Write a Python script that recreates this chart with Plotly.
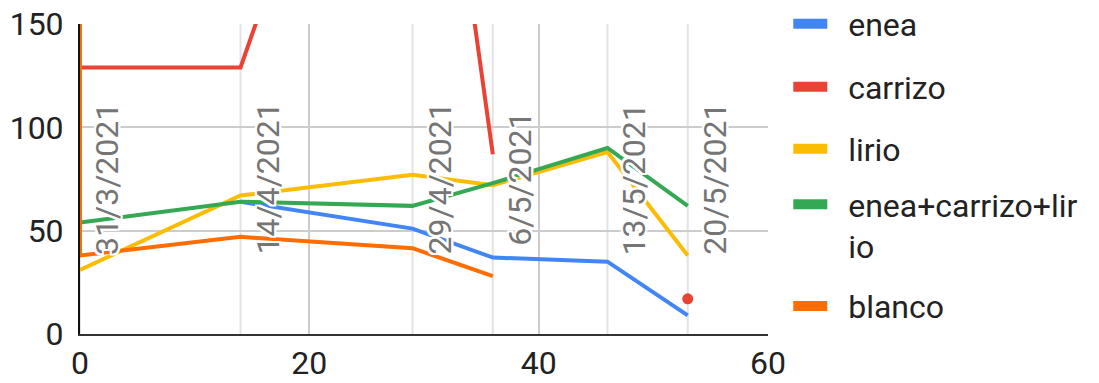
import plotly.graph_objects as go

# Days since 31/3/2021 for each sampling date
days = [0, 14, 29, 36, 46, 53]
date_labels = ["31/3/2021", "14/4/2021", "29/4/2021", "6/5/2021", "13/5/2021", "20/5/2021"]

enea = [None, 64, 51, 37, 35, 9]
carrizo = [129, 129, 367, 87, None, 17]
lirio = [31, 67, 77, 72, 88, 38]
mezcla = [54, 64, 62, 73, 90, 62]
blanco_days = [0, 0, 14, 29, 36]
blanco = [180, 38, 47, 41.5, 28]

series = [
    ("enea", days, enea, "#4285F4"),
    ("carrizo", days, carrizo, "#EA4335"),
    ("lirio", days, lirio, "#FBBC04"),
    ("enea+carrizo+lir<br>io", days, mezcla, "#34A853"),
    ("blanco", blanco_days, blanco, "#FF6D01"),
]

# vertical position (paper units) of each legend entry
legend_y = [1.0, 0.797, 0.597, 0.35, 0.09]

FONT = "Roboto, Arial, sans-serif"
FS = 32
LEG_FS = 32
PAD = "&nbsp;&nbsp;"  # gap between swatch and label


def isolated_sizes(vals, size):
    out = []
    for i, v in enumerate(vals):
        prev_missing = i == 0 or vals[i - 1] is None
        next_missing = i == len(vals) - 1 or vals[i + 1] is None
        out.append(size if (v is not None and prev_missing and next_missing) else 0)
    return out


fig = go.Figure()

for name, xs, ys, color in series:
    fig.add_trace(go.Scatter(
        x=xs, y=ys, mode="lines+markers", name=name,
        line=dict(color=color, width=4),
        marker=dict(color=color, size=isolated_sizes(ys, 11), opacity=1, line=dict(width=0)),
        showlegend=False, hoverinfo="skip",
    ))

# one legend box per series, each holding a wide swatch entry
legend_layouts = {}
for i, (name, xs, ys, color) in enumerate(series):
    key = "legend" if i == 0 else f"legend{i + 1}"
    label = "<br>".join(PAD + part for part in name.split("<br>"))
    fig.add_trace(go.Scatter(
        x=[None], y=[None], mode="lines", name=label,
        line=dict(color=color, width=10),
        legend=key, showlegend=True,
    ))
    legend_layouts[key] = dict(
        x=1.0295, y=legend_y[i], xanchor="left", yanchor="middle",
        valign="top", itemwidth=34, bgcolor="rgba(0,0,0,0)",
        font=dict(family=FONT, size=LEG_FS, color="#222222"),
    )

# annotation lines for each sampling date
halo = ", ".join(f"white {dx}px {dy}px 0px" for dx, dy in
                 [(2, 0), (-2, 0), (0, 2), (0, -2), (2, 2), (-2, -2), (2, -2), (-2, 2)])
for d, lab in zip(days, date_labels):
    fig.add_shape(type="line", xref="x", yref="paper", x0=d, x1=d, y0=0, y1=1,
                  line=dict(color="#e3e3e3", width=2), layer="below")
    fig.add_annotation(
        x=d, y=0.5, xref="x", yref="paper", text=lab, textangle=-90,
        showarrow=False, xanchor="left", yanchor="middle", xshift=6,
        font=dict(family=FONT, size=FS, color="#757575", shadow=halo),
    )

fig.update_layout(
    width=1099, height=383,
    margin=dict(l=80, r=331, t=24, b=49, autoexpand=False),
    paper_bgcolor="white", plot_bgcolor="white",
    font=dict(family=FONT, size=FS, color="#222222"),
    showlegend=True,
    **legend_layouts,
)
fig.update_xaxes(range=[0, 60], tickvals=[0, 20, 40, 60], showgrid=True,
                 gridcolor="#cccccc", gridwidth=2, zeroline=False,
                 showline=True, linecolor="#333333", linewidth=2,
                 ticks="", tickfont=dict(family=FONT, size=FS, color="#222222"))
fig.update_yaxes(range=[0, 150], tickvals=[0, 50, 100, 150], showgrid=True,
                 gridcolor="#cccccc", gridwidth=2, zeroline=False,
                 showline=True, linecolor="#111111", linewidth=2,
                 ticks="", ticklabelstandoff=8,
                 tickfont=dict(family=FONT, size=FS, color="#222222"))

fig.write_html("out.html")
